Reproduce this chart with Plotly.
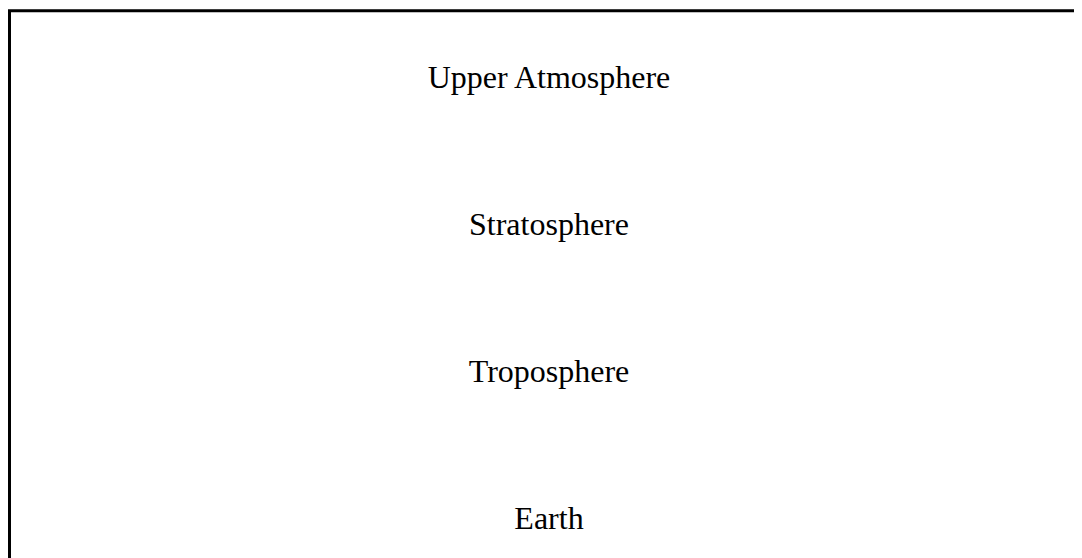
import plotly.graph_objects as go

# Layers from top to bottom
layers = ["Upper Atmosphere", "Stratosphere", "Troposphere", "Earth"]
levels = [3, 2, 1, 0]

W, H = 1082, 558
label_x = [0.5] * len(layers)

fig = go.Figure()
fig.add_trace(go.Scatter(
    x=label_x, y=levels, mode="text", text=layers,
    textposition="middle center",
    textfont=dict(family="Liberation Serif, Times New Roman, serif", size=32, color="black"),
    hoverinfo="skip", showlegend=False,
))

# Border box around the figure (right and bottom edges fall outside the view)
fig.add_shape(type="rect", xref="paper", yref="paper",
              x0=1.5 / W, x1=1 - 1.5 / W, y0=1.5 / H, y1=1 - 2.7 / H,
              line=dict(color="black", width=3), fillcolor="rgba(0,0,0,0)")

fig.update_layout(
    width=W, height=H,
    margin=dict(l=0, r=0, t=0, b=0),
    paper_bgcolor="white", plot_bgcolor="white",
    xaxis=dict(range=[0, 1], visible=False, fixedrange=True),
    yaxis=dict(range=[-0.3021, 3.4853], visible=False, fixedrange=True),
)

fig.write_html("out.html", config={"displayModeBar": False})
